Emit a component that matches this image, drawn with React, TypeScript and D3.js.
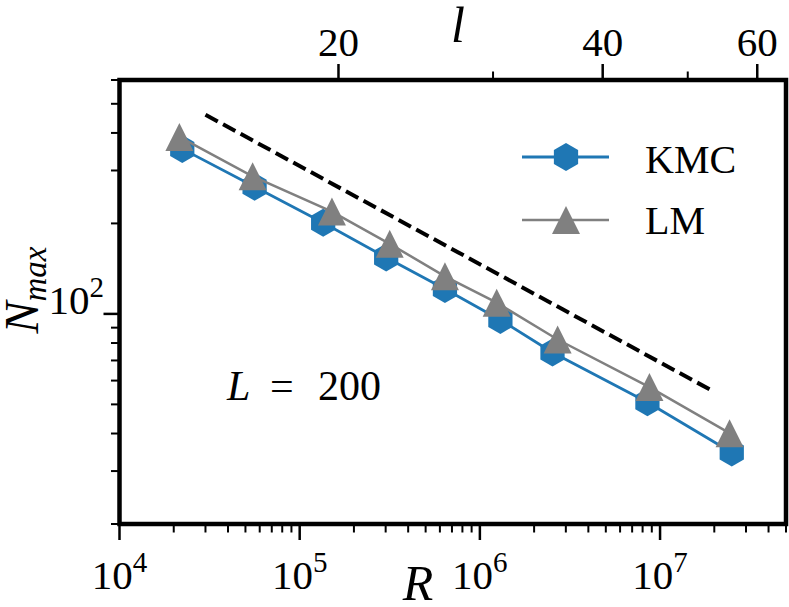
import React from "react";
import * as d3 from "d3";

// ---- data ----
const kmcR = [2.23e4, 5.62e4, 1.35e5, 3.02e5, 6.4e5, 1.3e6, 2.53e6, 8.51e6, 2.5e7];
const kmcN = [354, 265, 201, 154, 121, 95.5, 74.4, 50.8, 34.6];
const lmR = [2.15e4, 5.48e4, 1.51e5, 3.16e5, 6.4e5, 1.24e6, 2.7e6, 8.73e6, 2.43e7];
const lmN = [388, 287, 219, 171, 133.4, 109, 82.2, 57.1, 40.1];
const guideR = [3.0e4, 2.0e7];
const guideN = [460, 55];
const xMajor = [1e4, 1e5, 1e6, 1e7];
const xExp = ["4", "5", "6", "7"];
const yMajor = [100];
const yExp = ["2"];
const lTicks = [20, 30, 40, 50, 60];
const lLabels = [20, 40, 60];
const seriesNames = ["KMC", "LM"];

const W = 789;
const H = 607;
const L = 119.5, R = 786, T = 80, B = 524;
const BLUE = "#1f77b4";
const GRAY = "#808080";
const FONT = "Liberation Serif, DejaVu Serif, serif";

function hexPath(cx: number, cy: number, r: number) {
  const pts = d3.range(6).map((i) => {
    const a = (Math.PI / 3) * i - Math.PI / 2;
    return [cx + r * Math.cos(a), cy + r * Math.sin(a)];
  });
  return "M" + pts.map((p) => p.join(",")).join("L") + "Z";
}
function triPath(cx: number, cy: number, s: number) {
  return `M${cx},${cy - s}L${cx - s},${cy + s}L${cx + s},${cy + s}Z`;
}

export default function App() {
  const x = d3.scaleLog().domain([1e4, 5e7]).range([L, R]);
  const y = d3.scaleLog().domain([20, 600]).range([B, T]);
  const xt = d3.scaleLog().domain([11.26, 64.7]).range([L, R]);

  const xMinor: number[] = [];
  for (let e = 4; e <= 7; e++) for (let m = 2; m <= 9; m++) {
    const v = m * Math.pow(10, e);
    if (v <= 5e7) xMinor.push(v);
  }
  const yMinor: number[] = [];
  for (let e = 1; e <= 2; e++) for (let m = 2; m <= 9; m++) {
    const v = m * Math.pow(10, e);
    if (v >= 20 && v <= 600) yMinor.push(v);
  }

  const line = d3.line<[number, number]>().x((d) => x(d[0])).y((d) => y(d[1]));
  const kmcPts = kmcR.map((r, i) => [r, kmcN[i]] as [number, number]);
  const lmPts = lmR.map((r, i) => [r, lmN[i]] as [number, number]);
  const guidePts = guideR.map((r, i) => [r, guideN[i]] as [number, number]);

  return (
    <svg width={W} height={H} style={{ position: "absolute", left: 0, top: 0, background: "#fff", fontFamily: FONT }}>
      <rect x={0} y={0} width={W} height={H} fill="#fff" />
      {/* guide */}
      <path d={line(guidePts) || ""} fill="none" stroke="#000" strokeWidth={4} strokeDasharray="14,6" />
      {/* KMC */}
      <path d={line(kmcPts) || ""} fill="none" stroke={BLUE} strokeWidth={2.8} />
      {kmcPts.map((p, i) => (
        <path key={"k" + i} d={hexPath(x(p[0]), y(p[1]), 14)} fill={BLUE} />
      ))}
      {/* LM */}
      <path d={line(lmPts) || ""} fill="none" stroke={GRAY} strokeWidth={2.5} />
      {lmPts.map((p, i) => (
        <path key={"l" + i} d={triPath(x(p[0]), y(p[1]), 14)} fill={GRAY} />
      ))}

      {/* bottom ticks */}
      {xMinor.map((v, i) => (
        <line key={"xm" + i} x1={x(v)} x2={x(v)} y1={B} y2={B + 8.5} stroke="#000" strokeWidth={2} />
      ))}
      {xMajor.map((v, i) => (
        <g key={"xM" + i}>
          <line x1={x(v)} x2={x(v)} y1={B} y2={B + 16} stroke="#000" strokeWidth={2.5} />
          <text x={x(v)} y={589} textAnchor="middle" fontSize={41}>
            10<tspan fontSize={29} dy={-17}>{xExp[i]}</tspan>
          </text>
        </g>
      ))}
      {/* left ticks */}
      {yMinor.map((v, i) => (
        <line key={"ym" + i} x1={L} x2={L - 8.5} y1={y(v)} y2={y(v)} stroke="#000" strokeWidth={2} />
      ))}
      {yMajor.map((v, i) => (
        <g key={"yM" + i}>
          <line x1={L} x2={L - 16} y1={y(v)} y2={y(v)} stroke="#000" strokeWidth={2.5} />
          <text x={104} y={y(v)} textAnchor="end" fontSize={41}>
            10<tspan fontSize={29} dy={-17}>{yExp[i]}</tspan>
          </text>
        </g>
      ))}
      {/* top ticks */}
      {lTicks.map((v, i) => {
        const major = lLabels.includes(v);
        return (
          <g key={"t" + i}>
            <line x1={xt(v)} x2={xt(v)} y1={T} y2={T - (major ? 16 : 8.5)} stroke="#000"
              strokeWidth={major ? 2.5 : 2} />
            {major && (
              <text x={xt(v)} y={56} textAnchor="middle" fontSize={41}>{v}</text>
            )}
          </g>
        );
      })}

      {/* frame */}
      <rect x={L} y={T} width={R - L} height={B - T} fill="none" stroke="#000" strokeWidth={4.5} />

      {/* axis labels */}
      <text x={418} y={600} textAnchor="middle" fontSize={50} fontStyle="italic">R</text>
      <text x={458} y={42} textAnchor="middle" fontSize={50} fontStyle="italic">l</text>
      <text transform="translate(38,290) rotate(-90)" textAnchor="middle" fontSize={48} fontStyle="italic">
        N<tspan fontSize={33} dy={8}>max</tspan>
      </text>

      {/* annotation */}
      <text y={400} fontSize={42}>
        <tspan x={227} fontStyle="italic">L</tspan>
        <tspan x={270}>=</tspan>
        <tspan x={318}>200</tspan>
      </text>

      {/* legend */}
      <line x1={522} x2={609} y1={157} y2={157} stroke={BLUE} strokeWidth={2.8} />
      <path d={hexPath(566, 157, 14)} fill={BLUE} />
      <text x={645} y={173} fontSize={40}>{seriesNames[0]}</text>
      <line x1={522} x2={609} y1={220} y2={220} stroke={GRAY} strokeWidth={2.5} />
      <path d={triPath(566, 220, 14)} fill={GRAY} />
      <text x={645} y={234} fontSize={40}>{seriesNames[1]}</text>
    </svg>
  );
}
